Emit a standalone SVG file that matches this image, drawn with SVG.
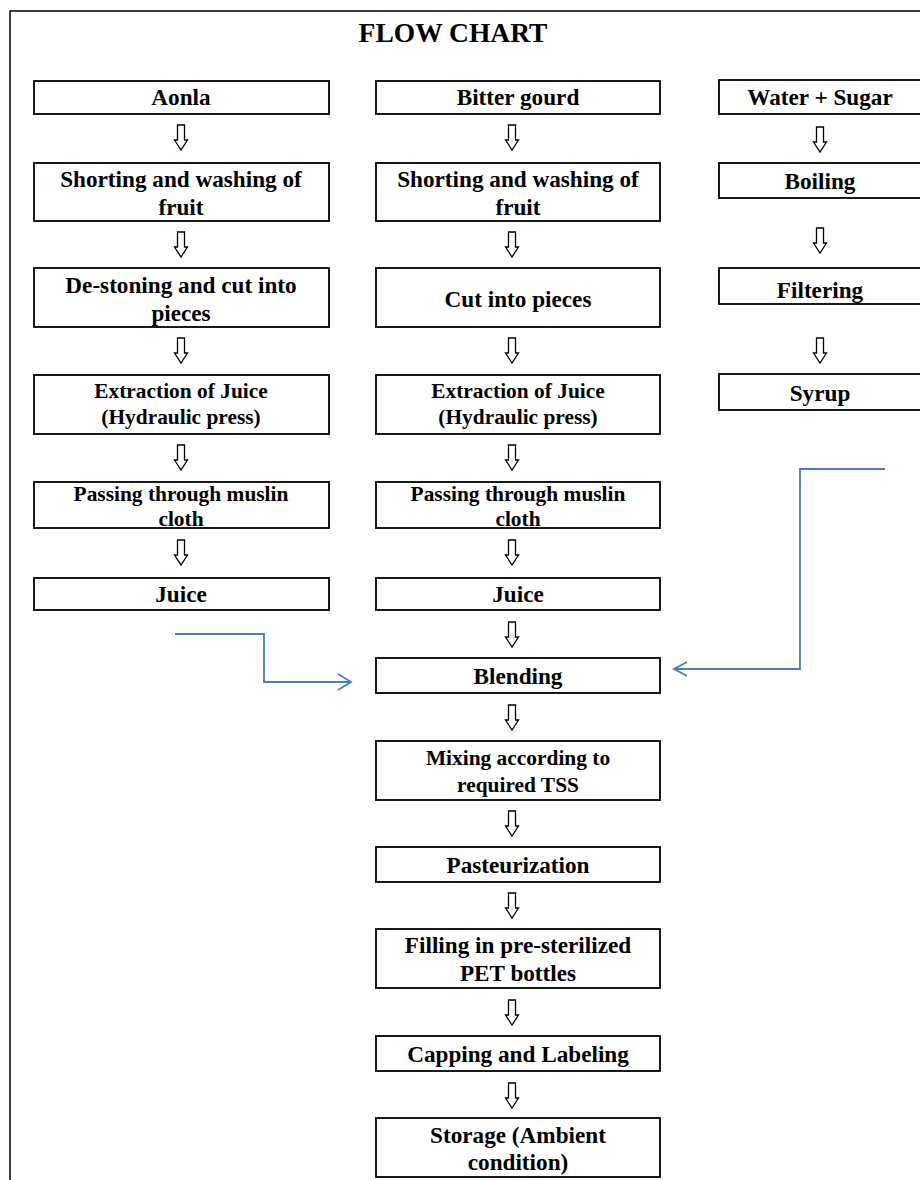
<svg xmlns="http://www.w3.org/2000/svg" width="920" height="1180" viewBox="0 0 920 1180">
<style>
.b{fill:#fff;stroke:#000;stroke-width:1.8}
.t{font-family:"Liberation Serif","Times New Roman",serif;font-weight:bold;fill:#000;text-anchor:middle}
.f20{font-size:23.2px}
.f18{font-size:21.4px}
.f17{font-size:21.4px}
.ar{fill:#fff;stroke:#000;stroke-width:1.3}
.c{fill:none;stroke:#4a7ebb;stroke-width:1.8}
</style>
<defs>
<polygon id="arr" points="-3.5,0 3.5,0 3.5,15 6.5,15 0,25 -6.5,15 -3.5,15"/>
</defs>
<rect width="920" height="1180" fill="#fff"/>
<path d="M10,1180 V11 H920" fill="none" stroke="#000" stroke-width="1.5"/>
<text class="t" x="453" y="42" font-size="27.5">FLOW CHART</text>

<g id="n-aonla"><rect class="b" x="34" y="81" width="295" height="33"/><text class="t f20" x="181" y="105">Aonla</text></g>
<g id="n-bitter"><rect class="b" x="376" y="81" width="284" height="33"/><text class="t f20" x="518" y="105">Bitter gourd</text></g>
<g id="n-water"><rect class="b" x="719" y="80" width="230" height="34"/><text class="t f20" x="820" y="105">Water + Sugar</text></g>

<g id="n-sort1"><rect class="b" x="34" y="163" width="295" height="58"/><text class="t f20" x="181" y="187">Shorting and washing of</text><text class="t f20" x="181" y="215">fruit</text></g>
<g id="n-sort2"><rect class="b" x="376" y="163" width="284" height="58"/><text class="t f20" x="518" y="187">Shorting and washing  of</text><text class="t f20" x="518" y="215">fruit</text></g>
<g id="n-boil"><rect class="b" x="719" y="163" width="230" height="35"/><text class="t f20" x="820" y="189">Boiling</text></g>

<g id="n-destone"><rect class="b" x="34" y="268" width="295" height="59"/><text class="t f20" x="181" y="293">De-stoning and cut into</text><text class="t f20" x="181" y="321">pieces</text></g>
<g id="n-cut"><rect class="b" x="376" y="268" width="284" height="59"/><text class="t f20" x="518" y="307">Cut into pieces</text></g>
<g id="n-filter"><rect class="b" x="719" y="268" width="230" height="36"/><text class="t f20" x="820" y="298">Filtering</text></g>

<g id="n-extract1"><rect class="b" x="34" y="375" width="295" height="59"/><text class="t f18" x="181" y="398">Extraction of Juice</text><text class="t f18" x="181" y="424">(Hydraulic press)</text></g>
<g id="n-extract2"><rect class="b" x="376" y="375" width="284" height="59"/><text class="t f18" x="518" y="398">Extraction of Juice</text><text class="t f18" x="518" y="424">(Hydraulic press)</text></g>
<g id="n-syrup"><rect class="b" x="719" y="374" width="230" height="36"/><text class="t f20" x="820" y="401">Syrup</text></g>

<g id="n-pass1"><rect class="b" x="34" y="482" width="295" height="46"/><text class="t f17" x="181" y="501">Passing through muslin</text><text class="t f17" x="181" y="526">cloth</text></g>
<g id="n-pass2"><rect class="b" x="376" y="482" width="284" height="46"/><text class="t f17" x="518" y="501">Passing through muslin</text><text class="t f17" x="518" y="526">cloth</text></g>

<g id="n-juice1"><rect class="b" x="34" y="578" width="295" height="32"/><text class="t f20" x="181" y="602">Juice</text></g>
<g id="n-juice2"><rect class="b" x="376" y="578" width="284" height="32"/><text class="t f20" x="518" y="602">Juice</text></g>

<g id="n-blend"><rect class="b" x="376" y="658" width="284" height="35"/><text class="t f20" x="518" y="684">Blending</text></g>
<g id="n-mix"><rect class="b" x="376" y="741" width="284" height="59"/><text class="t f18" x="518" y="765">Mixing according to</text><text class="t f18" x="518" y="792">required TSS</text></g>
<g id="n-past"><rect class="b" x="376" y="847" width="284" height="35"/><text class="t f20" x="518" y="873">Pasteurization</text></g>
<g id="n-fill"><rect class="b" x="376" y="929" width="284" height="59"/><text class="t f20" x="518" y="953">Filling in pre-sterilized</text><text class="t f20" x="518" y="981">PET bottles</text></g>
<g id="n-cap"><rect class="b" x="376" y="1036" width="284" height="35"/><text class="t f20" x="518" y="1062">Capping and Labeling</text></g>
<g id="n-store"><rect class="b" x="376" y="1118" width="284" height="59"/><text class="t f20" x="518" y="1143">Storage (Ambient</text><text class="t f20" x="518" y="1170">condition)</text></g>

<g id="connectors">
<use href="#arr" class="ar" x="181" y="125"/>
<use href="#arr" class="ar" x="181" y="232"/>
<use href="#arr" class="ar" x="181" y="338"/>
<use href="#arr" class="ar" x="181" y="445"/>
<use href="#arr" class="ar" x="181" y="540"/>
<use href="#arr" class="ar" x="512" y="125"/>
<use href="#arr" class="ar" x="512" y="232"/>
<use href="#arr" class="ar" x="512" y="338"/>
<use href="#arr" class="ar" x="512" y="445"/>
<use href="#arr" class="ar" x="512" y="540"/>
<use href="#arr" class="ar" x="512" y="622"/>
<use href="#arr" class="ar" x="512" y="705"/>
<use href="#arr" class="ar" x="512" y="811"/>
<use href="#arr" class="ar" x="512" y="893"/>
<use href="#arr" class="ar" x="512" y="1000"/>
<use href="#arr" class="ar" x="512" y="1083"/>
<use href="#arr" class="ar" x="820" y="127"/>
<use href="#arr" class="ar" x="820" y="228"/>
<use href="#arr" class="ar" x="820" y="338"/>
<path class="c" d="M175,634 H264 V682 H351"/>
<path class="c" d="M338,674 L351,682 L338,690"/>
<path class="c" d="M885,469 H800 V669 H674"/>
<path class="c" d="M687,662 L674,669 L687,676"/>
</g>
</svg>
